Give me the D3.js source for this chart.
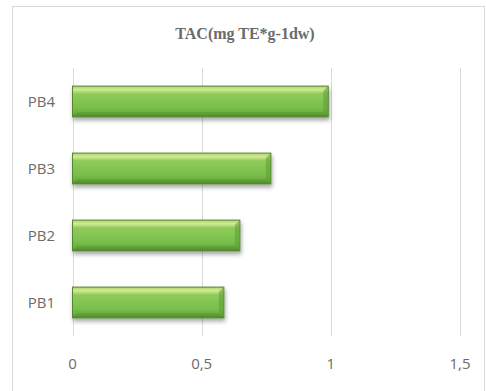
<!DOCTYPE html>
<html>
<head>
<meta charset="utf-8">
<script src="https://cdn.jsdelivr.net/npm/d3@7"></script>
<style>
  html, body { margin: 0; padding: 0; background: #fff; }
  svg { display: block; }
</style>
</head>
<body>
<div id="chart"></div>
<script>
const width = 486;
const height = 391;

// data
const categories = ["PB1", "PB2", "PB3", "PB4"];
const values = [0.586, 0.648, 0.768, 0.99];
const xTicks = [0, 0.5, 1, 1.5];
const tickLabels = ["0", "0,5", "1", "1,5"];
const title = "TAC(mg TE*g-1dw)";

const margin = { top: 68, right: 26, bottom: 55, left: 72.5 };

const svg = d3.select("#chart")
  .append("svg")
  .attr("width", width)
  .attr("height", height);

const defs = svg.append("defs");

// bar gradient (top highlight -> green -> darker bottom)
const grad = defs.append("linearGradient")
  .attr("id", "barGrad")
  .attr("x1", 0).attr("y1", 0).attr("x2", 0).attr("y2", 1);
grad.append("stop").attr("offset", "0%").attr("stop-color", "#a9d46e");
grad.append("stop").attr("offset", "12%").attr("stop-color", "#d3ea93");
grad.append("stop").attr("offset", "25%").attr("stop-color", "#8fcb5a");
grad.append("stop").attr("offset", "70%").attr("stop-color", "#79bf4b");
grad.append("stop").attr("offset", "88%").attr("stop-color", "#6aae3e");
grad.append("stop").attr("offset", "100%").attr("stop-color", "#4f8a2c");

const shadow = defs.append("filter")
  .attr("id", "shadow")
  .attr("x", "-5%").attr("y", "-20%").attr("width", "115%").attr("height", "160%");
shadow.append("feDropShadow")
  .attr("dx", 1).attr("dy", 3).attr("stdDeviation", 2)
  .attr("flood-color", "#000").attr("flood-opacity", 0.35);

// chart frame
svg.append("rect")
  .attr("x", 12.5).attr("y", 6.5)
  .attr("width", 472).attr("height", 400)
  .attr("fill", "#fff")
  .attr("stroke", "#d9d9d9")
  .attr("stroke-width", 1);

const x = d3.scaleLinear()
  .domain([0, 1.5])
  .range([margin.left, width - margin.right]);

const y = d3.scaleBand()
  .domain(categories.slice().reverse())
  .range([margin.top, height - margin.bottom])
  .paddingInner(0.54)
  .paddingOuter(0.27);

// gridlines
svg.append("g")
  .selectAll("line")
  .data(xTicks)
  .join("line")
  .attr("x1", d => Math.round(x(d)) + 0.5)
  .attr("x2", d => Math.round(x(d)) + 0.5)
  .attr("y1", margin.top)
  .attr("y2", height - margin.bottom)
  .attr("stroke", "#d9d9d9")
  .attr("stroke-width", 1);

// x tick labels
svg.append("g")
  .attr("font-family", "'Open Sans', 'Liberation Sans', sans-serif")
  .attr("font-size", 15)
  .attr("fill", "#6b6b6b")
  .selectAll("text")
  .data(xTicks)
  .join("text")
  .attr("x", d => x(d))
  .attr("y", 369)
  .attr("text-anchor", "middle")
  .text((d, i) => tickLabels[i]);

// category labels
svg.append("g")
  .attr("font-family", "'Open Sans', 'Liberation Sans', sans-serif")
  .attr("font-size", 15)
  .attr("fill", "#6b6b6b")
  .selectAll("text")
  .data(categories)
  .join("text")
  .attr("x", 55)
  .attr("y", d => y(d) + y.bandwidth() / 2)
  .attr("dy", "0.35em")
  .attr("text-anchor", "end")
  .text(d => d);

// bars
const bars = svg.append("g")
  .selectAll("g")
  .data(categories.map((c, i) => ({ cat: c, value: values[i] })))
  .join("g");

bars.append("rect")
  .attr("x", x(0))
  .attr("y", d => y(d.cat))
  .attr("width", d => x(d.value) - x(0))
  .attr("height", y.bandwidth())
  .attr("fill", "url(#barGrad)")
  .attr("stroke", "#55862f")
  .attr("stroke-width", 1)
  .attr("filter", "url(#shadow)");

// bevel on the right end
const bevel = 5;
bars.append("path")
  .attr("d", d => {
    const x1 = x(d.value), y0 = y(d.cat), y1 = y0 + y.bandwidth();
    return `M${x1},${y0} L${x1 - bevel},${y0 + bevel} L${x1 - bevel},${y1 - bevel} L${x1},${y1} Z`;
  })
  .attr("fill", "#5f9a38")
  .attr("opacity", 0.55);

// bevel on bottom edge
bars.append("path")
  .attr("d", d => {
    const x0 = x(0), x1 = x(d.value), y1 = y(d.cat) + y.bandwidth();
    return `M${x0},${y1} L${x0 + bevel},${y1 - bevel} L${x1 - bevel},${y1 - bevel} L${x1},${y1} Z`;
  })
  .attr("fill", "#4f8a2c")
  .attr("opacity", 0.35);

// title
svg.append("text")
  .attr("x", 245)
  .attr("y", 39)
  .attr("text-anchor", "middle")
  .attr("font-family", "'Liberation Serif', 'DejaVu Serif', serif")
  .attr("font-weight", "bold")
  .attr("font-size", 16)
  .attr("fill", "#6b6b6b")
  .text(title);
</script>
</body>
</html>
